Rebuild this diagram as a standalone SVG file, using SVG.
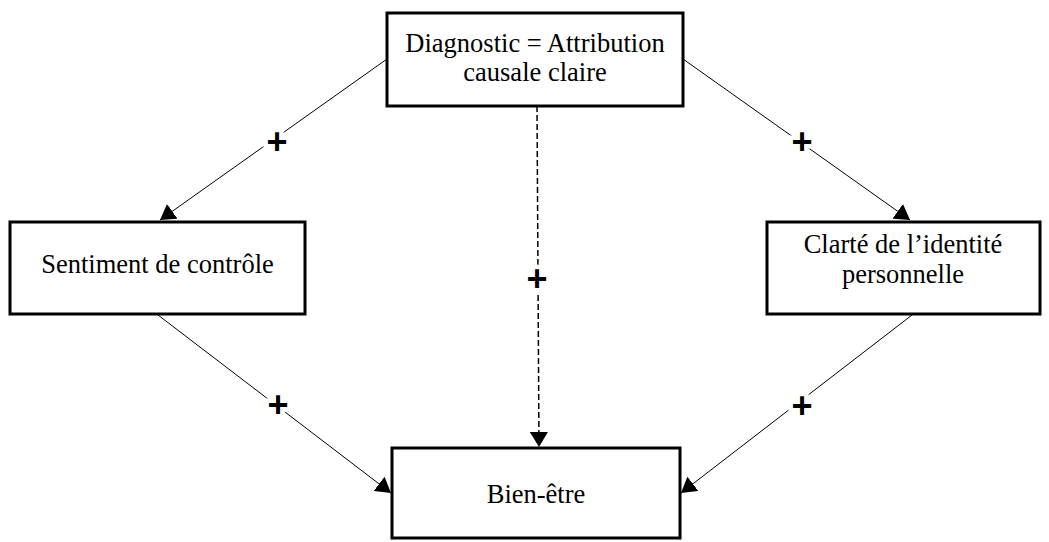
<svg xmlns="http://www.w3.org/2000/svg" width="1049" height="542" viewBox="0 0 1049 542">
  <style>
    .box { fill: #ffffff; stroke: #000000; stroke-width: 3; }
    .lbl { font-family: "Liberation Serif", "Times New Roman", serif; font-size: 26.5px; fill: #000000; text-anchor: middle; }
    .edge { stroke: #000000; stroke-width: 1; fill: none; }
    .dash { stroke: #000000; stroke-width: 1.5; fill: none; stroke-dasharray: 6 3; }
    .plus { font-family: "Liberation Sans", Arial, sans-serif; font-weight: bold; font-size: 36px; fill: #000000; text-anchor: middle; stroke: #ffffff; stroke-width: 9; paint-order: stroke; }
  </style>
  <defs>
    <marker id="arrow" viewBox="0 0 15 18" refX="15" refY="9" markerWidth="15" markerHeight="18" markerUnits="userSpaceOnUse" orient="auto">
      <path d="M0,0 L15,9 L0,18 z" fill="#000000"/>
    </marker>
  </defs>
  <rect width="1049" height="542" fill="#ffffff"/>
  <g id="connectors">
    <line class="edge" x1="387" y1="59" x2="160" y2="220" marker-end="url(#arrow)"/>
    <line class="edge" x1="683" y1="59" x2="910" y2="220" marker-end="url(#arrow)"/>
    <line class="dash" x1="537" y1="106" x2="539" y2="447" marker-end="url(#arrow)"/>
    <line class="edge" x1="158" y1="315" x2="391" y2="493" marker-end="url(#arrow)"/>
    <line class="edge" x1="912" y1="315" x2="681" y2="493" marker-end="url(#arrow)"/>
    <text class="plus" x="277" y="154">+</text>
    <text class="plus" x="802" y="154">+</text>
    <text class="plus" x="537" y="291">+</text>
    <text class="plus" x="278" y="417">+</text>
    <text class="plus" x="802" y="418">+</text>
  </g>
  <g id="node-diagnostic">
    <rect class="box" x="387" y="13" width="296" height="93"/>
    <text class="lbl" x="535" y="52">Diagnostic = Attribution</text>
    <text class="lbl" x="535" y="81">causale claire</text>
  </g>
  <g id="node-sentiment">
    <rect class="box" x="10" y="222" width="295" height="92"/>
    <text class="lbl" x="157.5" y="273">Sentiment de contrôle</text>
  </g>
  <g id="node-clarte">
    <rect class="box" x="767" y="222" width="273" height="92"/>
    <text class="lbl" x="903" y="253">Clarté de l’identité</text>
    <text class="lbl" x="903" y="283">personnelle</text>
  </g>
  <g id="node-bienetre">
    <rect class="box" x="392" y="448" width="288" height="90"/>
    <text class="lbl" x="536" y="503">Bien-être</text>
  </g>
</svg>
